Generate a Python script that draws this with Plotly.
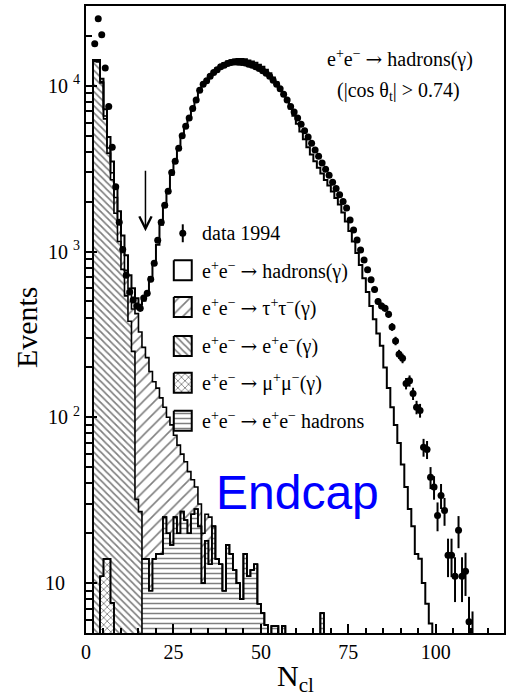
import numpy as np
import plotly.graph_objects as go

# ---------------------------------------------------------------------------
# Histogram binning: unit-width bins in N_cl from 0 to 120
# ---------------------------------------------------------------------------
N_BINS = 120
edges = np.arange(N_BINS + 1, dtype=float)
centers = edges[:-1] + 0.5


def fill_bins(first_bin, values):
    out = np.zeros(N_BINS)
    out[first_bin:first_bin + len(values)] = values
    return out


# data 1994 (events per bin), starting at bin N_cl = 2
data_first_bin = 2
data_1994 = [
    17900, 25400, 20300, 12800, 7500, 4250, 2460, 1500, 1030, 720,      # 2-11
    570, 510, 470, 455, 525, 560, 680, 850, 1170, 1500,                 # 12-21
    1900, 2310, 3000, 3500, 4200, 5000, 5700, 6400, 7300, 8200,         # 22-31
    9400, 10200, 10700, 11400, 12000, 12500, 13000, 13300, 13600, 13800,  # 32-41
    13900, 13850, 13800, 13700, 13500, 13300, 13000, 12700, 12300, 11900,  # 42-51
    11400, 10800, 10200, 9600, 8900, 8200, 7500, 6950, 6400, 5850,     # 52-61
    5350, 4900, 4500, 4100, 3750, 3420, 3130, 2880, 2620, 2400,         # 62-71
    2200, 2000, 1830, 1550, 1350, 1175, 1020, 890, 776, 676,            # 72-81
    590, 500, 470, 455, 418, 351, 289, 240, 227, 160,                   # 82-91
    166, 139, 115, 110, 66, 64, 43.5, 38, 25.6, 33.8,                   # 92-101
    27.4, 14.7, 14.7, 11, 20.8, 11, 11.8, 5.85, 4.6,                    # 102-110
]

# Monte Carlo: e+e- -> hadrons(gamma)
hadrons_first_bin = 2
mc_hadrons = [
    200, 250, 390, 640, 690, 510, 280, 270, 220, 180,                   # 2-11
    120, 150, 100, 150, 240, 330, 510, 690, 950, 1320,                  # 12-21
    1740, 2200, 2810, 3370, 4080, 4840, 5600, 6350, 7260, 8160,         # 22-31
    9270, 10180, 10870, 11580, 12180, 12790, 13290, 13690, 13980, 14240,  # 32-41
    14400, 14500, 14500, 14450, 14200, 14000, 13750, 13400, 13000, 12500,  # 42-51
    11900, 11200, 10500, 9700, 8900, 8100, 7300, 6600, 5900, 5300,     # 52-61
    4750, 4250, 3850, 3500, 3200, 2950, 2700, 2500, 2300, 2100,         # 62-71
    1920, 1720, 1520, 1330, 1150, 980, 830, 690, 570, 470,              # 72-81
    390, 320, 270, 200, 150, 115, 90, 70, 52, 38,                       # 82-91
    28, 22, 15, 14, 10, 7.5, 5.7,                                       # 92-98
]

# Monte Carlo: e+e- -> tau+tau-(gamma)
tautau_first_bin = 2
mc_tautau = [
    100, 150, 200, 250, 300, 280, 420, 330, 250, 230,                   # 2-11
    220, 200, 390, 300, 250, 215, 180, 150, 135, 116,                   # 12-21
    90, 80, 73, 53, 48, 33, 30, 27, 16, 10,                             # 22-31
    8, 10, 8, 12,                                                       # 32-35
]

# Monte Carlo: e+e- -> e+e-(gamma)
bhabha_first_bin = 2
mc_bhabha = [
    14000, 13900, 10400, 6300, 3900, 2700, 1700, 1150, 780, 540,        # 2-11
    380, 250, 32, 27,                                                   # 12-15
]

# Monte Carlo: e+e- -> mu+mu-(gamma)
mumu_first_bin = 4
mc_mumu = [11, 14, 14, 7.6]                                             # 4-7

# Monte Carlo: e+e- -> e+e- hadrons (two-photon)
twophoton_first_bin = 16
mc_twophoton = [
    14, 14, 9, 14, 15, 15, 25, 20, 17, 25,                              # 16-25
    20, 27, 24, 20, 26, 28, 22, 10, 18, 13,                             # 26-35
    22, 14, 13, 9, 17, 15, 12, 10, 8, 15,                               # 36-45
    11, 12, 13, 7.5, 6.6, 5.6, 0, 5.5, 5.5, 0,                          # 46-55
    5.5, 0, 0, 0, 0, 0, 0, 0, 0, 0, 0, 6.6,                             # 56-67
]

x_tick_values = [0, 25, 50, 75, 100]
y_tick_values = [10, 100, 1000, 10000]
y_tick_labels = ["10\u00a0\u00a0\u00a0", "10 <sup>2</sup>", "10 <sup>3</sup>", "10 <sup>4</sup>"]

# ---------------------------------------------------------------------------
data = fill_bins(data_first_bin, data_1994)
hadrons = fill_bins(hadrons_first_bin, mc_hadrons)
tautau = fill_bins(tautau_first_bin, mc_tautau)
bhabha = fill_bins(bhabha_first_bin, mc_bhabha)
mumu = fill_bins(mumu_first_bin, mc_mumu)
twophoton = fill_bins(twophoton_first_bin, mc_twophoton)

# stacked (cumulative) Monte Carlo, bottom to top
cum_mumu = mumu
cum_2g = cum_mumu + twophoton
cum_ee = cum_2g + bhabha
cum_tau = cum_ee + tautau
cum_all = cum_tau + hadrons

SERIF = "Liberation Serif, Times New Roman, DejaVu Serif, serif"
SANS = "Liberation Sans, Arial, Helvetica, sans-serif"
ARROW = "<span style='font-family:DejaVu Serif'>\u2192</span>"

PAT_TAU = dict(shape="/", fgcolor="black", bgcolor="white", size=8, solidity=0.2)
PAT_EE = dict(shape="\\", fgcolor="black", bgcolor="white", size=5, solidity=0.34)
PAT_2G = dict(shape="-", fgcolor="black", bgcolor="white", size=5, solidity=0.3)
PAT_MU = dict(shape="x", fgcolor="black", bgcolor="white", size=5, solidity=0.32)

# page geometry (pixels)
W, H = 510, 698
L, R, T, B = 86, 5, 4, 65
PW, PH = W - L - R, H - T - B


def px_x(x):
    return (x - L) / PW


def px_y(y):
    return (H - B - y) / PH


fig = go.Figure()


def add_filled(values, pattern):
    y = np.where(values > 0, values, np.nan)
    fig.add_trace(go.Bar(
        x=centers, y=y, width=1.0,
        marker=dict(color="white", line=dict(width=0), pattern=pattern),
        showlegend=False, hoverinfo="skip",
    ))


FLOOR = 1e-2  # below the visible range, so outlines drop through the axis


def add_outline(values, width):
    y = np.where(values > 0, values, FLOOR)
    xs = np.concatenate([edges[:-1], [edges[-1]]])
    ys = np.concatenate([y, [y[-1]]])
    fig.add_trace(go.Scatter(
        x=xs, y=ys, mode="lines",
        line=dict(color="black", width=width, shape="hv"),
        showlegend=False, hoverinfo="skip",
    ))


# hatched stack, drawn from the top layer downwards
add_filled(cum_tau, PAT_TAU)
add_filled(cum_ee, PAT_EE)
add_filled(cum_2g, PAT_2G)
add_filled(cum_mumu, PAT_MU)

add_outline(cum_all, 2.0)
add_outline(cum_tau, 1.6)
add_outline(cum_ee, 1.6)
add_outline(cum_2g, 1.6)
add_outline(cum_mumu, 1.6)

# data points with statistical errors
mask = data > 0
fig.add_trace(go.Scatter(
    x=centers[mask], y=data[mask], mode="markers",
    marker=dict(color="black", size=7),
    error_y=dict(type="data", array=np.sqrt(data[mask]), thickness=2, width=0, color="black"),
    showlegend=False, hoverinfo="skip",
))

# ---------------------------------------------------------------------------
# legend, drawn in page-pixel coordinates on an overlay axis pair
# ---------------------------------------------------------------------------
EE = "e<sup>+</sup>e<sup>\u2212</sup>"
legend_rows = [
    (f"{EE} {ARROW} hadrons(\u03b3)", None),
    (f"{EE} {ARROW} \u03c4<sup>+</sup>\u03c4<sup>\u2212</sup>(\u03b3)", PAT_TAU),
    (f"{EE} {ARROW} {EE}(\u03b3)", PAT_EE),
    (f"{EE} {ARROW} \u03bc<sup>+</sup>\u03bc<sup>\u2212</sup>(\u03b3)", PAT_MU),
    (f"{EE} {ARROW} {EE} hadrons", PAT_2G),
]
leg_x0, leg_x1 = 174, 192
leg_text_x = 200
leg_data_y = 232
leg_row_y = [269, 306, 345, 382, 420]

annotations = []

fig.add_trace(go.Scatter(
    x=[(leg_x0 + leg_x1) / 2], y=[leg_data_y], mode="markers",
    marker=dict(color="black", size=7),
    error_y=dict(type="data", array=[9], thickness=2, width=0, color="black"),
    xaxis="x2", yaxis="y2", showlegend=False, hoverinfo="skip",
))
annotations.append(dict(
    x=leg_text_x, y=leg_data_y, xref="x2", yref="y2", text="data 1994",
    showarrow=False, xanchor="left", yanchor="middle", font=dict(family=SERIF, size=20),
))

for (label, pattern), yc in zip(legend_rows, leg_row_y):
    box = dict(
        x=[leg_x0, leg_x1, leg_x1, leg_x0, leg_x0],
        y=[yc - 10, yc - 10, yc + 10, yc + 10, yc - 10],
        mode="lines", fill="toself", fillcolor="white",
        line=dict(color="black", width=2),
        xaxis="x2", yaxis="y2", showlegend=False, hoverinfo="skip",
    )
    if pattern is not None:
        box["fillpattern"] = pattern
    fig.add_trace(go.Scatter(**box))
    annotations.append(dict(
        x=leg_text_x, y=yc, xref="x2", yref="y2", text=label,
        showarrow=False, xanchor="left", yanchor="middle", font=dict(family=SERIF, size=20),
    ))

# process / selection label
annotations.append(dict(
    x=px_x(401), y=px_y(57), xref="paper", yref="paper",
    text=f"{EE} {ARROW} hadrons(\u03b3)",
    showarrow=False, xanchor="center", yanchor="middle", font=dict(family=SERIF, size=20),
))
annotations.append(dict(
    x=px_x(399), y=px_y(90), xref="paper", yref="paper",
    text="(|cos \u03b8<sub>t</sub>| > 0.74)",
    showarrow=False, xanchor="center", yanchor="middle", font=dict(family=SERIF, size=20),
))

# region label
annotations.append(dict(
    x=px_x(298), y=px_y(492), xref="paper", yref="paper", text="Endcap",
    showarrow=False, xanchor="center", yanchor="middle",
    font=dict(family=SANS, size=48, color="rgb(0,0,255)"),
))

# axis titles
annotations.append(dict(
    x=px_x(27), y=px_y(326), xref="paper", yref="paper", text="Events",
    showarrow=False, textangle=-90, xanchor="center", yanchor="middle",
    font=dict(family=SERIF, size=30),
))
annotations.append(dict(
    x=px_x(296), y=px_y(678), xref="paper", yref="paper", text="N<sub>cl</sub>",
    showarrow=False, xanchor="center", yanchor="middle", font=dict(family=SERIF, size=30),
))

# cut position
cut_value = 17
annotations.append(dict(
    x=cut_value, y=np.log10(1325), xref="x", yref="y", text="",
    showarrow=True, ax=0, ay=-62, axref="pixel", ayref="pixel",
    arrowhead=5, arrowsize=1.6, arrowwidth=1.5, arrowcolor="black",
))

y_minor = [m * 10 ** d for d in range(0, 5) for m in range(2, 10)]
y_minor = [v for v in y_minor if 5.5 < v < 30000]

fig.update_layout(
    width=W, height=H,
    margin=dict(l=L, r=R, t=T, b=B, pad=0),
    paper_bgcolor="white", plot_bgcolor="white",
    barmode="overlay", bargap=0,
    showlegend=False,
    font=dict(family=SERIF, color="black", size=20),
    annotations=annotations,
    xaxis=dict(
        range=[0, 119.5], showgrid=False, zeroline=False,
        showline=True, linewidth=2, linecolor="black", mirror=True,
        ticks="inside", ticklen=9, tickwidth=1.5, tickcolor="black",
        tickvals=x_tick_values, tickfont=dict(family=SERIF, size=20, color="black"),
        minor=dict(ticks="inside", ticklen=5, tickwidth=1.5, tickcolor="black", dtick=5, tick0=0, showgrid=False),
    ),
    yaxis=dict(
        type="log", range=[0.699, 4.481], showgrid=False, zeroline=False,
        showline=True, linewidth=2, linecolor="black", mirror=True,
        ticks="inside", ticklen=11, tickwidth=1.5, tickcolor="black",
        tickvals=y_tick_values, ticktext=y_tick_labels,
        tickfont=dict(family=SERIF, size=20, color="black"),
        minor=dict(ticks="inside", ticklen=6, tickwidth=1.5, tickcolor="black", tickvals=y_minor, showgrid=False),
    ),
    xaxis2=dict(overlaying="x", anchor="y2", range=[L, W - R], visible=False, fixedrange=True),
    yaxis2=dict(overlaying="y", anchor="x2", range=[H - B, T], visible=False, fixedrange=True),
)

fig.write_html("out.html")
